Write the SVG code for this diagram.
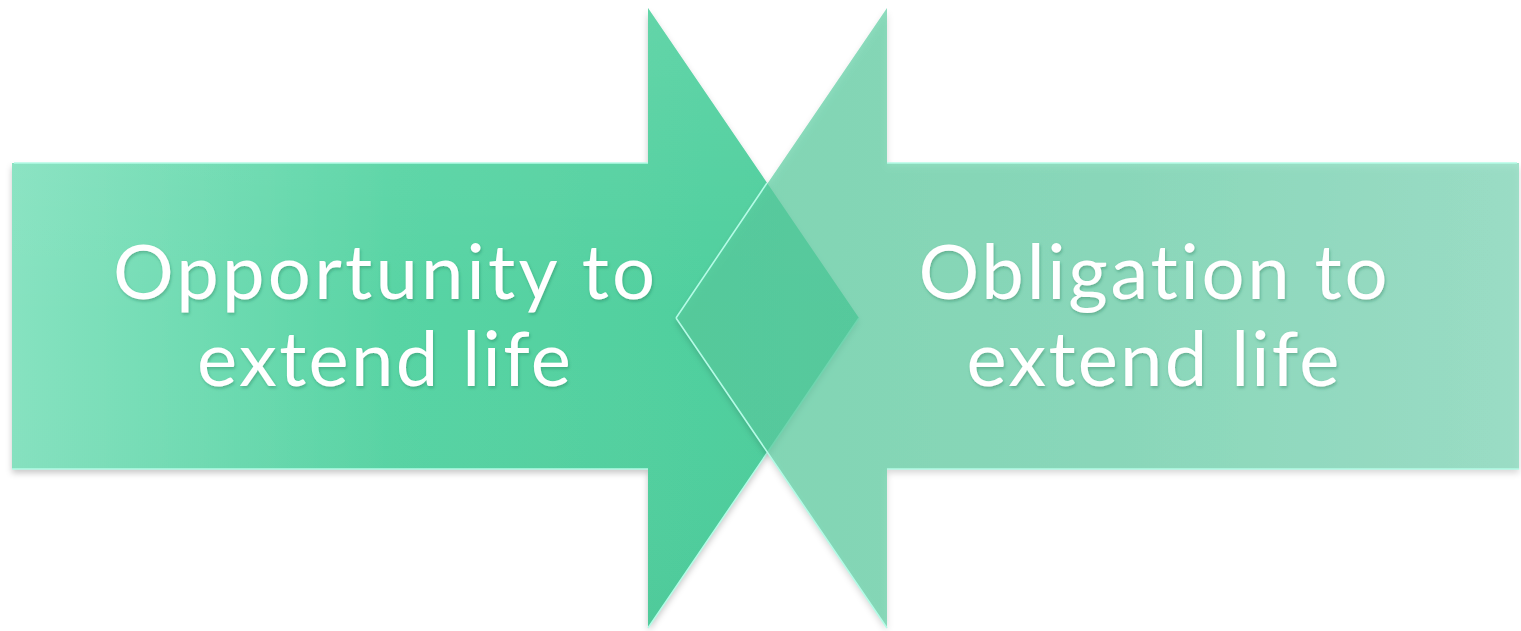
<svg xmlns="http://www.w3.org/2000/svg" width="1521" height="631" viewBox="0 0 1521 631">
  <defs>
    <linearGradient id="gradLeft" x1="0" y1="0" x2="1" y2="0">
      <stop offset="0" stop-color="#86e2c0"/>
      <stop offset="0.45" stop-color="#58d4a4"/>
      <stop offset="1" stop-color="#4ccd9b"/>
    </linearGradient>
    <linearGradient id="gradRight" x1="0" y1="0" x2="1" y2="0">
      <stop offset="0" stop-color="#58cd9e"/>
      <stop offset="0.5" stop-color="#64cfa6"/>
      <stop offset="1" stop-color="#7cd6b6"/>
    </linearGradient>
    <linearGradient id="shine" x1="0" y1="0" x2="0" y2="1">
      <stop offset="0" stop-color="#ffffff" stop-opacity="0.10"/>
      <stop offset="0.5" stop-color="#ffffff" stop-opacity="0"/>
      <stop offset="1" stop-color="#000000" stop-opacity="0.03"/>
    </linearGradient>
    <filter id="shadow" x="-5%" y="-5%" width="110%" height="115%">
      <feDropShadow dx="0" dy="4" stdDeviation="3" flood-color="#000000" flood-opacity="0.22"/>
    </filter>
    <filter id="textShadow" x="-5%" y="-10%" width="110%" height="130%">
      <feDropShadow dx="1" dy="2" stdDeviation="1.5" flood-color="#1a6b4c" flood-opacity="0.35"/>
    </filter>
  </defs>
  <style>
    .label { font-family: Lato, "Open Sans", "Liberation Sans", sans-serif; font-size: 76px; fill: #ffffff; text-anchor: middle; font-variant-ligatures: none; }
    .edge { fill: none; stroke: #b4fbe6; stroke-width: 1.6; stroke-linejoin: miter; }
  </style>

  <rect width="1521" height="631" fill="#ffffff"/>

  <!-- left arrow pointing right -->
  <g id="opportunity">
    <path d="M12,163 H648 V8 L859,318 L648,628 V469 H12 Z" fill="url(#gradLeft)" filter="url(#shadow)"/>
    <path d="M12,163 H648 V8 L859,318 L648,628 V469 H12 Z" fill="url(#shine)"/>
    <path class="edge" d="M12,469 H648 M648,628 L859,318 M648,163 H14"/>
    <g filter="url(#textShadow)">
      <text class="label" x="384" y="299" textLength="542" lengthAdjust="spacing">Opportunity to</text>
      <text class="label" x="384" y="386" textLength="374" lengthAdjust="spacing">extend life</text>
    </g>
  </g>

  <!-- right arrow pointing left, translucent over the first -->
  <g id="obligation">
    <path d="M1519,163 H887 V8 L676,318 L887,628 V469 H1519 Z" fill="url(#gradRight)" fill-opacity="0.7" filter="url(#shadow)"/>
    <path class="edge" d="M1519,469 H887 M676,318 L887,628 M887,163 H1517 M676,318 L767,183"/>
    <g filter="url(#textShadow)">
      <text class="label" x="1153" y="299" textLength="469" lengthAdjust="spacing">Obligation to</text>
      <text class="label" x="1153" y="386" textLength="373" lengthAdjust="spacing">extend life</text>
    </g>
  </g>
</svg>
